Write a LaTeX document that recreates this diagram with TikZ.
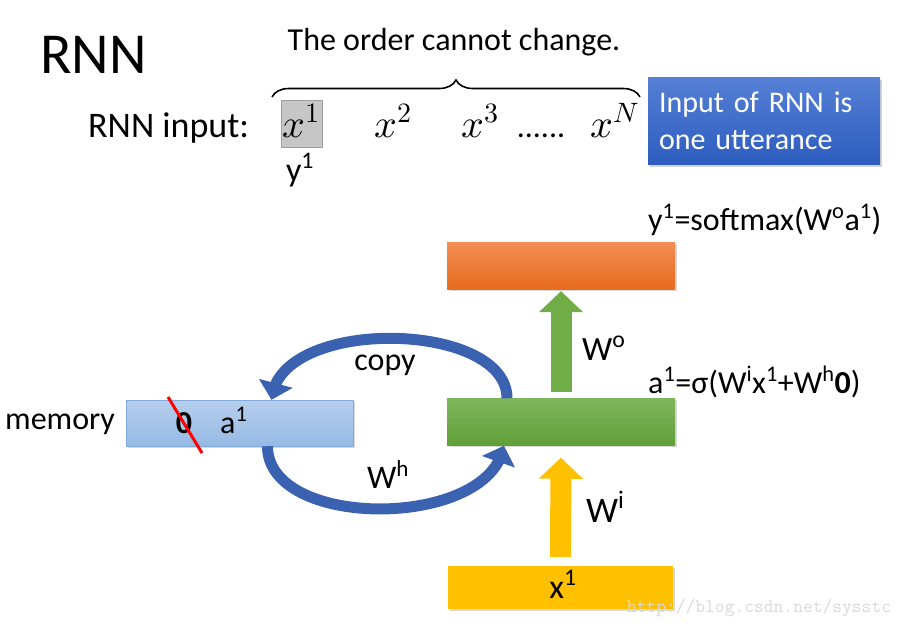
\documentclass[tikz,border=0pt]{standalone}
\usepackage{unicode-math}
\setmainfont{Carlito}
\usetikzlibrary{arrows.meta,decorations.pathreplacing,shadows,bending}
\definecolor{notetop}{RGB}{86,128,214}
\definecolor{notebot}{RGB}{44,92,190}
\definecolor{outtop}{RGB}{243,142,84}
\definecolor{outbot}{RGB}{231,108,30}
\definecolor{hidtop}{RGB}{126,182,92}
\definecolor{hidbot}{RGB}{96,160,56}
\definecolor{intop}{RGB}{255,192,0}
\definecolor{memtop}{RGB}{182,206,236}
\definecolor{membot}{RGB}{150,186,228}
\definecolor{memline}{RGB}{130,170,220}
\definecolor{arrgreen}{RGB}{112,173,71}
\definecolor{arryellow}{RGB}{255,192,0}
\definecolor{recblue}{RGB}{58,98,176}
\begin{document}
\begin{tikzpicture}[x=1pt,y=-1pt,
  txt/.style={inner sep=0pt,font=\fontsize{32}{37}\selectfont},
  mx/.style={inner sep=0pt,font=\fontsize{40}{44}\selectfont},
  layer/.style={minimum width=228pt,minimum height=47pt,inner sep=0pt,
    drop shadow={opacity=0.3,shadow xshift=1.5pt,shadow yshift=-1.5pt}},
  feed/.style={line width=21pt,-{Triangle[length=21pt,width=43pt]}},
  recur/.style={line width=11pt,draw=recblue,-{Triangle[length=17pt,width=34pt]}}]
\useasboundingbox (0,0) rectangle (906,629);
\node[txt,anchor=west,font=\fontsize{58}{60}\selectfont] (title) at (40,55) {RNN};
\node[txt] (order) at (454,42) {The order cannot change.};
\coordinate (bl) at (272,97);
\coordinate (br) at (640,97);
\draw[line width=1.6pt,decorate,decoration={brace,amplitude=17pt}] (bl) -- (br);
\node[txt,anchor=base west,font=\fontsize{36}{40}\selectfont] (inp) at (88,137) {RNN input:};
\node[draw=gray!75,fill=gray!45,minimum width=41pt,minimum height=47pt,inner sep=0pt] (x1box) at (301.5,123.5) {};
\node[mx,anchor=base] (x1) at (301.5,137) {$x^1$};
\node[mx,anchor=base] (x2) at (393,137) {$x^2$};
\node[mx,anchor=base] (x3) at (480,137) {$x^3$};
\node[txt,anchor=base] (dots) at (541,137) {......};
\node[mx,anchor=base] (xN) at (615,137) {$x^N$};
\node[txt,anchor=base,font=\fontsize{34}{40}\selectfont] (y1) at (300,181) {y\textsuperscript{1}};
\node[txt,minimum width=232pt,minimum height=87pt,inner xsep=11pt,text width=210pt,align=left,
  font=\fontsize{30}{37}\selectfont,text=white,top color=notetop,bottom color=notebot,
  drop shadow={opacity=0.35,shadow xshift=2pt,shadow yshift=-2pt}] (note) at (764,121)
  {Input of RNN is\\one utterance};
\node[txt,anchor=base west] (outeq) at (648,230) {y\textsuperscript{1}=softmax(W\textsuperscript{o}a\textsuperscript{1})};
\node[layer,top color=outtop,bottom color=outbot] (out) at (561,265.5) {};
\node[layer,top color=hidtop,bottom color=hidbot] (hid) at (561,422) {};
\node[txt,anchor=base west] (hideq) at (648,393) {a\textsuperscript{1}=σ(W\textsuperscript{i}x\textsuperscript{1}+W\textsuperscript{h}\textbf{0})};
\node[layer,minimum width=225pt,minimum height=43pt,fill=intop,drop shadow={opacity=0}] (in) at (560.5,587.5) {};
\node[txt,anchor=base,font=\fontsize{34}{40}\selectfont] (inlab) at (563,598) {x\textsuperscript{1}};
\node[layer,minimum width=227pt,minimum height=46pt,top color=memtop,bottom color=membot,draw=memline,
  drop shadow={opacity=0}] (mem) at (239.5,423) {};
\node[txt,anchor=base,font=\bfseries\fontsize{32}{37}\selectfont] (zero) at (184,433) {0};
\node[txt,anchor=base west] (memval) at (220,433) {a\textsuperscript{1}};
\draw[red,line width=3pt] (168,397) -- (202,453);
\node[txt,anchor=base west] (memlab) at (5,429) {memory};
\draw[feed,draw=arrgreen,shorten <=6pt,shorten >=2pt] (hid.north) -- (out.south);
\draw[feed,draw=arryellow,shorten <=9pt,shorten >=12pt] (in.north) -- (hid.south);
\node[txt,anchor=base west,font=\fontsize{34}{40}\selectfont] (wo) at (582,360) {W\textsuperscript{o}};
\node[txt,anchor=base west,font=\fontsize{36}{40}\selectfont] (wi) at (586,522) {W\textsuperscript{i}};
\draw[recur] ([xshift=-54pt]hid.north) .. controls +(0,-78) and +(6,-84) .. ([xshift=32pt]mem.north);
\draw[recur] ([xshift=28pt]mem.south) .. controls +(0,84) and +(-14,84) .. ([xshift=-57pt]hid.south);
\node[txt,anchor=base] (copylab) at (385,370) {copy};
\node[txt,anchor=base,font=\fontsize{33}{37}\selectfont] (whlab) at (388,488) {W\textsuperscript{h}};
\node[inner sep=0pt,text=gray!30,font=\ttfamily\fontsize{19}{20}\selectfont] (mark) at (759,608) {http://blog.csdn.net/sysstc};
\end{tikzpicture}
\end{document}
